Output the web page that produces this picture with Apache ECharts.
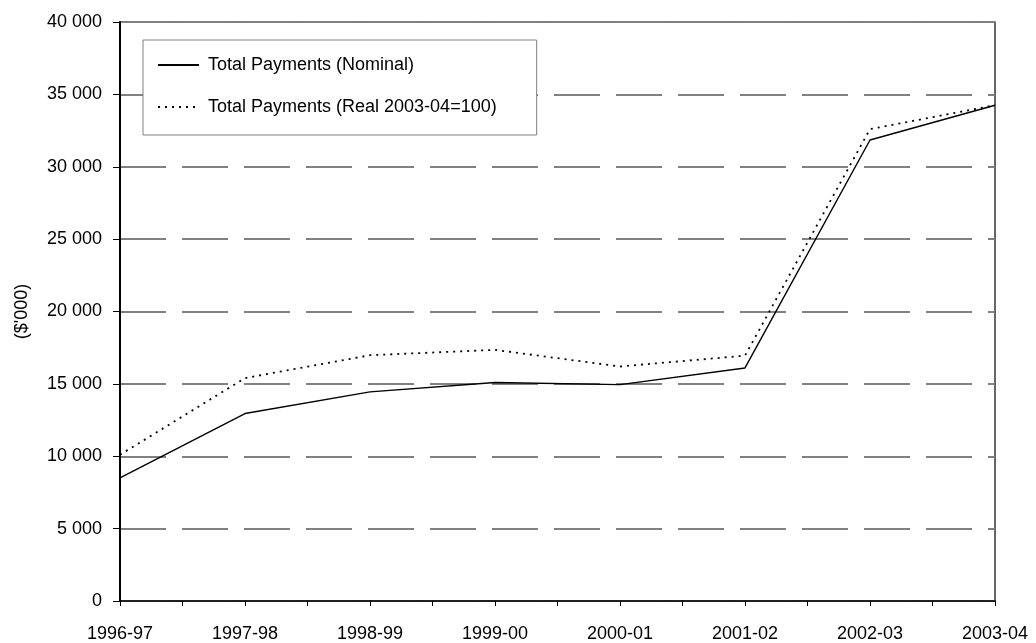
<!DOCTYPE html>
<html>
<head>
<meta charset="utf-8">
<script src="https://cdn.jsdelivr.net/npm/echarts@6/dist/echarts.min.js"></script>
<style>
  html, body { margin: 0; padding: 0; background: #fff; }
  #chart { width: 1036px; height: 643px; }
</style>
</head>
<body>
<div id="chart"></div>
<script>
// Financial years on the horizontal axis
const years = ['1996-97', '1997-98', '1998-99', '1999-00', '2000-01', '2001-02', '2002-03', '2003-04'];

// Total payments, $'000
const nominal = [8500, 12950, 14450, 15100, 14950, 16100, 31850, 34250];
const real = [10100, 15400, 16980, 17350, 16200, 16950, 32600, 34250];

const seriesNames = ['Total Payments (Nominal)', 'Total Payments (Real 2003-04=100)'];
const yAxisName = "($'000)";

const font = 'Liberation Sans, Arial, sans-serif';
const fontSize = 18;

function fmtThousands(v) {
  return String(v).replace(/\B(?=(\d{3})+(?!\d))/g, ' ');
}

const chart = echarts.init(document.getElementById('chart'));
chart.setOption({
  animation: false,
  backgroundColor: '#fff',
  grid: {
    left: 120, right: 41, top: 22, bottom: 39,
    show: true, borderColor: '#000', borderWidth: 1.2
  },
  legend: {
    orient: 'vertical',
    left: 143, top: 40,
    padding: [16, 40, 19, 14],
    itemGap: 24,
    itemWidth: 41,
    itemHeight: 14,
    backgroundColor: '#fff',
    borderColor: '#808080',
    borderWidth: 1,
    // line only, no marker in the key
    itemStyle: { color: 'rgba(0,0,0,0)', borderWidth: 0 },
    textStyle: { fontFamily: font, fontSize: fontSize, color: '#000', padding: [0, 0, 0, 4] },
    data: seriesNames
  },
  xAxis: {
    type: 'value',
    min: 0, max: years.length - 1, interval: 0.5,
    axisLine: { show: true, lineStyle: { color: '#000', width: 1.5 } },
    axisTick: { show: true, length: 5, lineStyle: { color: '#000', width: 1 } },
    splitLine: { show: false },
    axisLabel: {
      fontFamily: font, fontSize: fontSize, color: '#000', margin: 24,
      showMinLabel: true, showMaxLabel: true,
      formatter: v => (Number.isInteger(v) ? years[v] : '')
    }
  },
  yAxis: {
    type: 'value',
    min: 0, max: 40000, interval: 5000,
    name: yAxisName,
    nameLocation: 'middle',
    nameGap: 89,
    nameRotate: 90,
    nameTextStyle: { fontFamily: font, fontSize: fontSize, color: '#000' },
    axisLine: { show: true, lineStyle: { color: '#000', width: 2 } },
    axisTick: { show: true, inside: false, length: 7, lineStyle: { color: '#000', width: 1 } },
    axisLabel: {
      fontFamily: font, fontSize: fontSize, color: '#000', margin: 18,
      formatter: v => fmtThousands(v)
    },
    splitLine: {
      show: true,
      lineStyle: { color: '#808080', width: 2, type: [46, 16] }
    }
  },
  series: [
    {
      name: seriesNames[0],
      type: 'line',
      symbol: 'none',
      data: nominal.map((v, i) => [i, v]),
      lineStyle: { color: '#000', width: 1.4, type: 'solid' },
      itemStyle: { color: '#000' },
      z: 3
    },
    {
      name: seriesNames[1],
      type: 'line',
      symbol: 'none',
      data: real.map((v, i) => [i, v]),
      lineStyle: { color: '#000', width: 1.8, type: [2, 5] },
      itemStyle: { color: '#000' },
      z: 2
    }
  ]
});
</script>
</body>
</html>
